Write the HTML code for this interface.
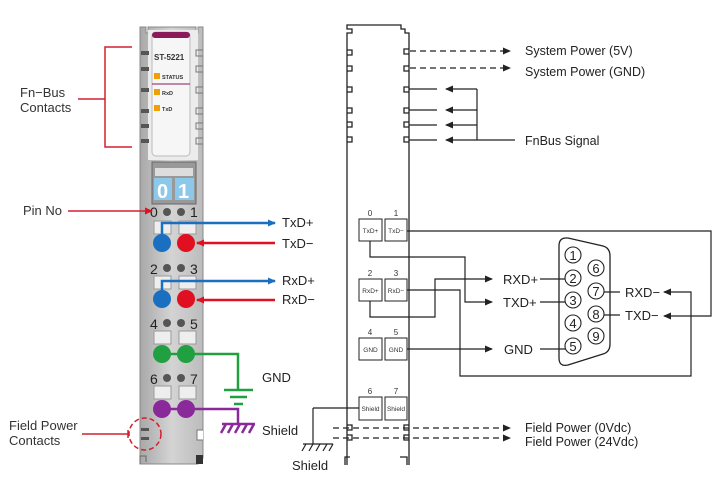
<!DOCTYPE html>
<html><head><meta charset="utf-8"><style>
body{margin:0;background:#fff}
svg{display:block;font-family:"Liberation Sans",sans-serif}
</style></head><body>
<svg width="720" height="500" viewBox="0 0 720 500">
<defs>
<marker id="ak" markerWidth="8" markerHeight="8" refX="7" refY="4" orient="auto" markerUnits="userSpaceOnUse"><path d="M0,0.5 L8,4 L0,7.5z" fill="#222"/></marker>
<marker id="ab" markerWidth="8" markerHeight="8" refX="7" refY="4" orient="auto" markerUnits="userSpaceOnUse"><path d="M0,0.5 L8,4 L0,7.5z" fill="#1a6fc0"/></marker>
<marker id="ar" markerWidth="8" markerHeight="8" refX="7" refY="4" orient="auto" markerUnits="userSpaceOnUse"><path d="M0,0.5 L8,4 L0,7.5z" fill="#e01020"/></marker>
<linearGradient id="g" x1="0" x2="1"><stop offset="0" stop-color="#a8a8a8"/><stop offset=".5" stop-color="#d4d4d4"/><stop offset="1" stop-color="#bcbcbc"/></linearGradient>
</defs>
<!-- LEFT MODULE -->
<path d="M140,27 H146 V33 H148 V27 H196 V33 H198 V27 H203 V458 H198 V464 H140 Z" fill="url(#g)" stroke="#888"/>
<rect x="148" y="30" width="50" height="130" fill="#ececec"/>
<rect x="152" y="32" width="38" height="124" rx="4" fill="#f6f6f6" stroke="#bbb"/>
<rect x="152" y="32" width="38" height="6" rx="3" fill="#8b1a5a"/>
<text x="154" y="60" font-size="8" font-weight="bold" fill="#333">ST-5221</text>
<rect x="154" y="73" width="6" height="6" fill="#f0a000"/><text x="162" y="79" font-size="5.5" font-weight="bold" fill="#333">STATUS</text>
<line x1="152" y1="84" x2="190" y2="84" stroke="#8b1a5a"/>
<rect x="154" y="89" width="6" height="6" fill="#f0a000"/><text x="162" y="95" font-size="5.5" font-weight="bold" fill="#333">RxD</text>
<rect x="154" y="105" width="6" height="6" fill="#f0a000"/><text x="162" y="111" font-size="5.5" font-weight="bold" fill="#333">TxD</text>
<g fill="#555"><rect x="141" y="51" width="8" height="4"/><rect x="141" y="67" width="8" height="4"/><rect x="141" y="88" width="8" height="4"/><rect x="141" y="109" width="8" height="4"/><rect x="141" y="124" width="8" height="4"/><rect x="141" y="139" width="8" height="4"/>
<rect x="141" y="428" width="8" height="3"/><rect x="141" y="437" width="8" height="3"/></g>
<g fill="none" stroke="#777"><path d="M203,50 h-7 v6 h7 M203,66 h-7 v6 h7 M203,87 h-7 v6 h7 M203,108 h-7 v6 h7 M203,123 h-7 v6 h7 M203,138 h-7 v6 h7"/></g>
<rect x="152" y="162" width="44" height="42" fill="#999" stroke="#666"/>
<rect x="155" y="168" width="38" height="8" fill="#ddd"/>
<rect x="154" y="178" width="18" height="22" fill="#8cc8ea"/><rect x="175" y="178" width="19" height="22" fill="#8cc8ea"/>
<text x="157" y="198" font-size="20" font-weight="bold" fill="#fff">0</text><text x="178" y="198" font-size="20" font-weight="bold" fill="#fff">1</text>
<g font-size="14" fill="#222">
<text x="150" y="217">0</text><text x="190" y="217">1</text>
<text x="150" y="274">2</text><text x="190" y="274">3</text>
<text x="150" y="329">4</text><text x="190" y="329">5</text>
<text x="150" y="384">6</text><text x="190" y="384">7</text></g>
<g fill="#555"><circle cx="167" cy="212" r="4"/><circle cx="181" cy="212" r="4"/><circle cx="167" cy="268" r="4"/><circle cx="181" cy="268" r="4"/><circle cx="167" cy="323" r="4"/><circle cx="181" cy="323" r="4"/><circle cx="167" cy="378" r="4"/><circle cx="181" cy="378" r="4"/></g>
<g fill="#eee" stroke="#999"><rect x="154" y="221" width="17" height="13"/><rect x="179" y="221" width="17" height="13"/><rect x="154" y="276" width="17" height="13"/><rect x="179" y="276" width="17" height="13"/><rect x="154" y="331" width="17" height="13"/><rect x="179" y="331" width="17" height="13"/><rect x="154" y="386" width="17" height="13"/><rect x="179" y="386" width="17" height="13"/></g>
<path d="M203,430 h-6 v10 h6" fill="#fff" stroke="#777"/>
<rect x="196" y="455" width="7" height="9" fill="#333"/>
<path d="M140,464 V456 H146 V462" fill="none" stroke="#666"/>
<!-- wires -->
<path d="M162,243 V223 H275" fill="none" stroke="#1a6fc0" stroke-width="2.5" marker-end="url(#ab)"/>
<path d="M275,243 H197" fill="none" stroke="#e01020" stroke-width="2.5" marker-end="url(#ar)"/>
<path d="M162,299 V281 H275" fill="none" stroke="#1a6fc0" stroke-width="2.5" marker-end="url(#ab)"/>
<path d="M275,300 H197" fill="none" stroke="#e01020" stroke-width="2.5" marker-end="url(#ar)"/>
<circle cx="162" cy="243" r="9" fill="#1a6fc0"/><circle cx="186" cy="243" r="9" fill="#e01020"/>
<circle cx="162" cy="299" r="9" fill="#1a6fc0"/><circle cx="186" cy="299" r="9" fill="#e01020"/>
<path d="M162,354 H238 V390 M224,390 H253 M230,397 H247 M234,404 H243" fill="none" stroke="#20a040" stroke-width="2.5"/>
<circle cx="162" cy="354" r="9" fill="#20a040"/><circle cx="186" cy="354" r="9" fill="#20a040"/>
<path d="M162,409 H238 V424 M222,424 H255 M226,424 l-5,9 M233,424 l-5,9 M240,424 l-5,9 M247,424 l-5,9 M254,424 l-5,9" fill="none" stroke="#8a2a9a" stroke-width="2.5"/>
<circle cx="162" cy="409" r="9" fill="#8a2a9a"/><circle cx="186" cy="409" r="9" fill="#8a2a9a"/>
<g font-size="13" fill="#222"><text x="282" y="227">TxD+</text><text x="282" y="248">TxD−</text><text x="282" y="285">RxD+</text><text x="282" y="304">RxD−</text><text x="262" y="382">GND</text><text x="262" y="435">Shield</text></g>
<!-- red annotations -->
<path d="M132,47 H105 V147 H132 M78,99 H105" fill="none" stroke="#d02030" stroke-width="1.5"/>
<path d="M68,211 H152" fill="none" stroke="#d02030" stroke-width="1.5" marker-end="url(#ar)"/>
<path d="M82,434 H128 M128,430 v8" fill="none" stroke="#d02030" stroke-width="1.5"/>
<circle cx="145" cy="434" r="16" fill="none" stroke="#d02030" stroke-width="1.5" stroke-dasharray="5,3"/>
<g font-size="13" fill="#333"><text x="20" y="97">Fn−Bus</text><text x="20" y="112">Contacts</text><text x="23" y="215">Pin No</text><text x="9" y="430">Field Power</text><text x="9" y="445">Contacts</text></g>
<!-- RIGHT MODULE -->
<g fill="none" stroke="#222" stroke-width="1.3">
<path d="M347,465 V33 H352 V29 H347 V25 H401 V29 H405 V33 H409 V465"/>
<path d="M347,50 h5 v5 h-5 M347,66 h5 v5 h-5 M347,87 h5 v5 h-5 M347,108 h5 v5 h-5 M347,122 h5 v5 h-5 M347,137 h5 v5 h-5"/>
<path d="M409,49 h-5 v5 h5 M409,66 h-5 v5 h5 M409,87 h-5 v5 h5 M409,108 h-5 v5 h5 M409,122 h-5 v5 h5 M409,137 h-5 v5 h5"/>
<path d="M347,425 h5 v5 h-5 M347,435 h5 v5 h-5 M409,425 h-5 v5 h5 M409,435 h-5 v5 h5"/>
<path d="M345,465 V457 H350 M400,457 H407 V465"/>
</g>
<g stroke="#222" stroke-width="1.2" fill="none">
<path d="M410,51 H510" stroke-dasharray="6,4" marker-end="url(#ak)"/>
<path d="M410,68 H510" stroke-dasharray="6,4" marker-end="url(#ak)"/>
<path d="M409,89 H437 M409,110 H437 M409,125 H437 M409,140 H437"/>
<path d="M477,89 H446" marker-end="url(#ak)"/><path d="M477,110 H446" marker-end="url(#ak)"/><path d="M477,125 H446" marker-end="url(#ak)"/><path d="M515,140 H446" marker-end="url(#ak)"/>
<path d="M477,89 V140"/>
<path d="M333,428 H510" stroke-dasharray="6,4" marker-end="url(#ak)"/>
<path d="M333,438 H510" stroke-dasharray="6,4" marker-end="url(#ak)"/>
</g>
<g font-size="12.5" fill="#222"><text x="525" y="55">System Power (5V)</text><text x="525" y="76">System Power (GND)</text><text x="525" y="145">FnBus Signal</text><text x="525" y="432">Field Power (0Vdc)</text><text x="525" y="446">Field Power (24Vdc)</text></g>
<!-- terminals -->
<g fill="#fff" stroke="#222"><rect x="359" y="219" width="23" height="22"/><rect x="385" y="219" width="22" height="22"/><rect x="359" y="279" width="23" height="22"/><rect x="385" y="279" width="22" height="22"/><rect x="359" y="338" width="23" height="22"/><rect x="385" y="338" width="22" height="22"/><rect x="359" y="397" width="23" height="23"/><rect x="385" y="397" width="22" height="23"/></g>
<g font-size="6.5" fill="#333" text-anchor="middle"><text x="370.5" y="233">TxD+</text><text x="396" y="233">TxD−</text><text x="370.5" y="293">RxD+</text><text x="396" y="293">RxD−</text><text x="370.5" y="352">GND</text><text x="396" y="352">GND</text><text x="370.5" y="411">Shield</text><text x="396" y="411">Shield</text></g>
<g font-size="8" fill="#333" text-anchor="middle"><text x="370" y="216">0</text><text x="396" y="216">1</text><text x="370" y="276">2</text><text x="396" y="276">3</text><text x="370" y="335">4</text><text x="396" y="335">5</text><text x="370" y="394">6</text><text x="396" y="394">7</text></g>
<g stroke="#222" stroke-width="1.2" fill="none">
<path d="M407,231 H711 V316 H664" marker-end="url(#ak)"/>
<path d="M370,241 V257 H465 V302 H492" marker-end="url(#ak)"/>
<path d="M370,301 V317 H435 V279 H492" marker-end="url(#ak)"/>
<path d="M407,290 H460 V376 H691 V292 H664" marker-end="url(#ak)"/>
<path d="M407,349 H492" marker-end="url(#ak)"/>
<path d="M540,279 H565 M540,302 H565 M540,349 H565 M604,292 H620 M604,315 H620"/>
<path d="M313,408 H359 M313,408 V444 M303,444 H333 M306,444 l-4,7 M313,444 l-4,7 M320,444 l-4,7 M327,444 l-4,7 M333,444 l-4,7"/>
<path d="M566,238 Q559,238 559,246 V358 Q559,367 568,365 L603,354 Q610,352 610,344 V256 Q610,248 603,246 L568,238Z" stroke-width="1.3"/>
<g stroke-width="1.1"><circle cx="573" cy="255" r="8"/><circle cx="573" cy="278" r="8"/><circle cx="573" cy="300" r="8"/><circle cx="573" cy="323" r="8"/><circle cx="573" cy="346" r="8"/><circle cx="596" cy="268" r="8"/><circle cx="596" cy="291" r="8"/><circle cx="596" cy="314" r="8"/><circle cx="596" cy="336" r="8"/></g>
</g>
<g font-size="13" fill="#222" text-anchor="middle"><text x="573" y="260">1</text><text x="573" y="283">2</text><text x="573" y="305">3</text><text x="573" y="328">4</text><text x="573" y="351">5</text><text x="596" y="273">6</text><text x="596" y="296">7</text><text x="596" y="319">8</text><text x="596" y="341">9</text></g>
<g font-size="13" fill="#222"><text x="503" y="284">RXD+</text><text x="503" y="307">TXD+</text><text x="504" y="354">GND</text><text x="625" y="297">RXD−</text><text x="625" y="320">TXD−</text><text x="292" y="470">Shield</text></g>
</svg>
</body></html>
